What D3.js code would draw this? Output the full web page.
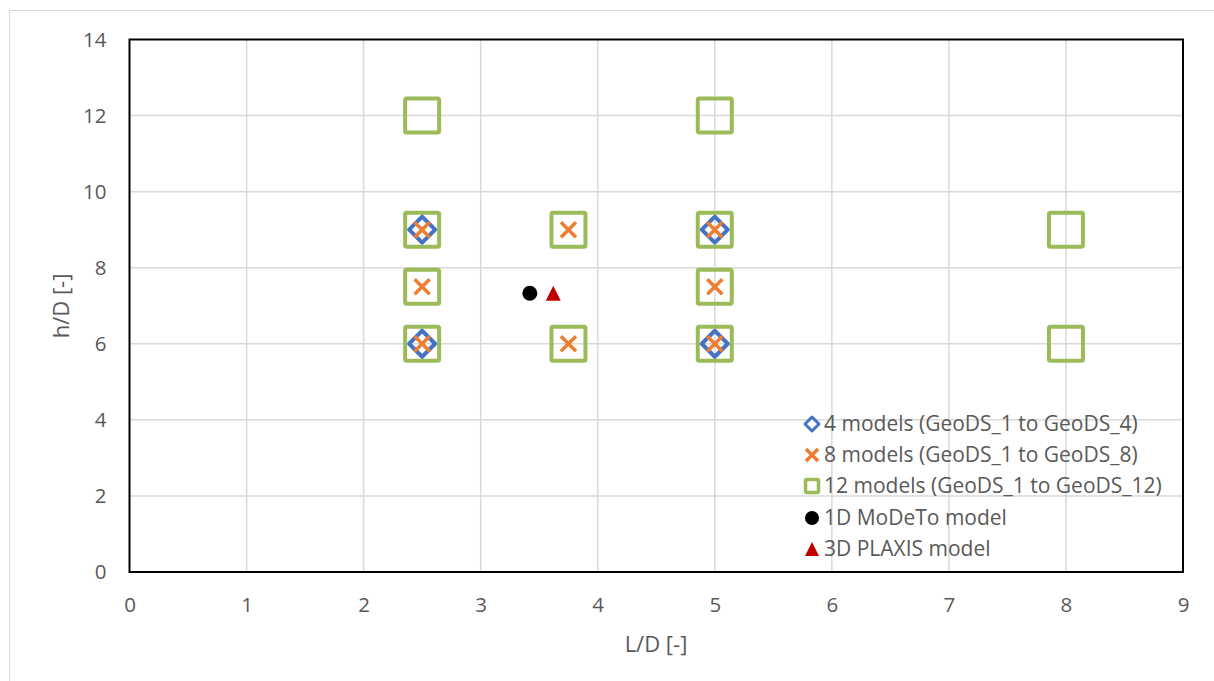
<!DOCTYPE html>
<html><head><meta charset="utf-8">
<script src="https://cdn.jsdelivr.net/npm/d3@7"></script>
<style>body{margin:0;background:#fff}svg{display:block}text{font-family:"Open Sans","Noto Sans",sans-serif;fill:#595959}</style>
</head><body><svg id="c" width="1214" height="681"></svg>
<script>
const xTicks = [0,1,2,3,4,5,6,7,8,9];
const yTicks = [0,2,4,6,8,10,12,14];
const models4 = [[2.5,6],[2.5,9],[5,6],[5,9]];
const models8 = [[2.5,6],[2.5,7.5],[2.5,9],[3.75,6],[3.75,9],[5,6],[5,7.5],[5,9]];
const models12 = [[2.5,6],[2.5,7.5],[2.5,9],[2.5,12],[3.75,6],[3.75,9],[5,6],[5,7.5],[5,9],[5,12],[8,6],[8,9]];
const modeto = [[3.42,7.33]];
const plaxis = [[3.62,7.33]];
const legendLabels = ["4 models (GeoDS_1 to GeoDS_4)","8 models (GeoDS_1 to GeoDS_8)","12 models (GeoDS_1 to GeoDS_12)","1D MoDeTo model","3D PLAXIS model"];

const svg = d3.select("#c");
svg.append("rect").attr("x",9.5).attr("y",10.5).attr("width",1230).attr("height",700).attr("fill","none").attr("stroke","#d9d9d9").attr("stroke-width",1);

const x = d3.scaleLinear().domain([0,9]).range([129.5,1183]);
const y = d3.scaleLinear().domain([0,14]).range([572,39.5]);

const g = svg.append("g");
g.selectAll(".vg").data(xTicks.slice(1,-1)).join("line").attr("x1",d=>x(d)).attr("x2",d=>x(d)).attr("y1",y(0)).attr("y2",y(14)).attr("stroke","#d9d9d9").attr("stroke-width",1.5);
g.selectAll(".hg").data(yTicks.slice(1,-1)).join("line").attr("y1",d=>y(d)).attr("y2",d=>y(d)).attr("x1",x(0)).attr("x2",x(9)).attr("stroke","#d9d9d9").attr("stroke-width",1.5);

const xa = svg.append("g").attr("transform",`translate(0,${y(0)})`).call(d3.axisBottom(x).tickValues(xTicks).tickSize(0).tickPadding(25));
const ya = svg.append("g").attr("transform",`translate(${x(0)},0)`).call(d3.axisLeft(y).tickValues(yTicks).tickSize(0).tickPadding(23));
[xa,ya].forEach(a=>{a.select(".domain").remove();a.selectAll("text").style("font-size","20.5px").style("font-family","'Open Sans',sans-serif").attr("fill","#595959");});

svg.append("rect").attr("x",x(0)).attr("y",y(14)).attr("width",x(9)-x(0)).attr("height",y(0)-y(14)).attr("fill","none").attr("stroke","#000").attr("stroke-width",2);

function square(sel,cx,cy,s){sel.append("rect").attr("x",cx-s/2).attr("y",cy-s/2).attr("width",s).attr("height",s).attr("rx",1.5).attr("fill","none").attr("stroke","#9bbb59").attr("stroke-width",s>20?4:3.5);}
function diamond(sel,cx,cy,r,sw){sel.append("path").attr("d",`M${cx},${cy-r}L${cx+r},${cy}L${cx},${cy+r}L${cx-r},${cy}Z`).attr("fill","none").attr("stroke","#4472c4").attr("stroke-width",sw).attr("stroke-linejoin","round");}
function cross(sel,cx,cy,r,sw){sel.append("path").attr("d",`M${cx-r},${cy-r}L${cx+r},${cy+r}M${cx-r},${cy+r}L${cx+r},${cy-r}`).attr("stroke","#ed7d31").attr("stroke-width",sw);}
function tri(sel,cx,cy,s){sel.append("path").attr("d",`M${cx},${cy-s/2}L${cx+s/2},${cy+s/2}L${cx-s/2},${cy+s/2}Z`).attr("fill","#c00000");}

const m = svg.append("g");
models12.forEach(d=>square(m,x(d[0]),y(d[1]),34));
models4.forEach(d=>diamond(m,x(d[0]),y(d[1]),13,4));
models8.forEach(d=>cross(m,x(d[0]),y(d[1]),7.5,3.5));
modeto.forEach(d=>m.append("circle").attr("cx",x(d[0])).attr("cy",y(d[1])).attr("r",7.5).attr("fill","#000"));
plaxis.forEach(d=>tri(m,x(d[0]),y(d[1]),15));

const lg = svg.append("g");
const ly = [424,455,486,518,549];
const lx = 812;
diamond(lg,lx,ly[0],7,3);
cross(lg,lx,ly[1],6,3.5);
square(lg,lx,ly[2],13);
lg.append("circle").attr("cx",lx).attr("cy",ly[3]).attr("r",7).attr("fill","#000");
tri(lg,lx,ly[4],14);
legendLabels.forEach((t,i)=>lg.append("text").attr("x",824).attr("y",ly[i]).attr("dy","0.35em").style("font-size","21px").text(t));

svg.append("text").attr("x",656).attr("y",644).attr("dy","0.35em").attr("text-anchor","middle").style("font-size","22px").text("L/D [-]");
svg.append("text").attr("transform","translate(61,306) rotate(-90)").attr("dy","0.35em").attr("text-anchor","middle").style("font-size","22px").text("h/D [-]");
</script></body></html>
